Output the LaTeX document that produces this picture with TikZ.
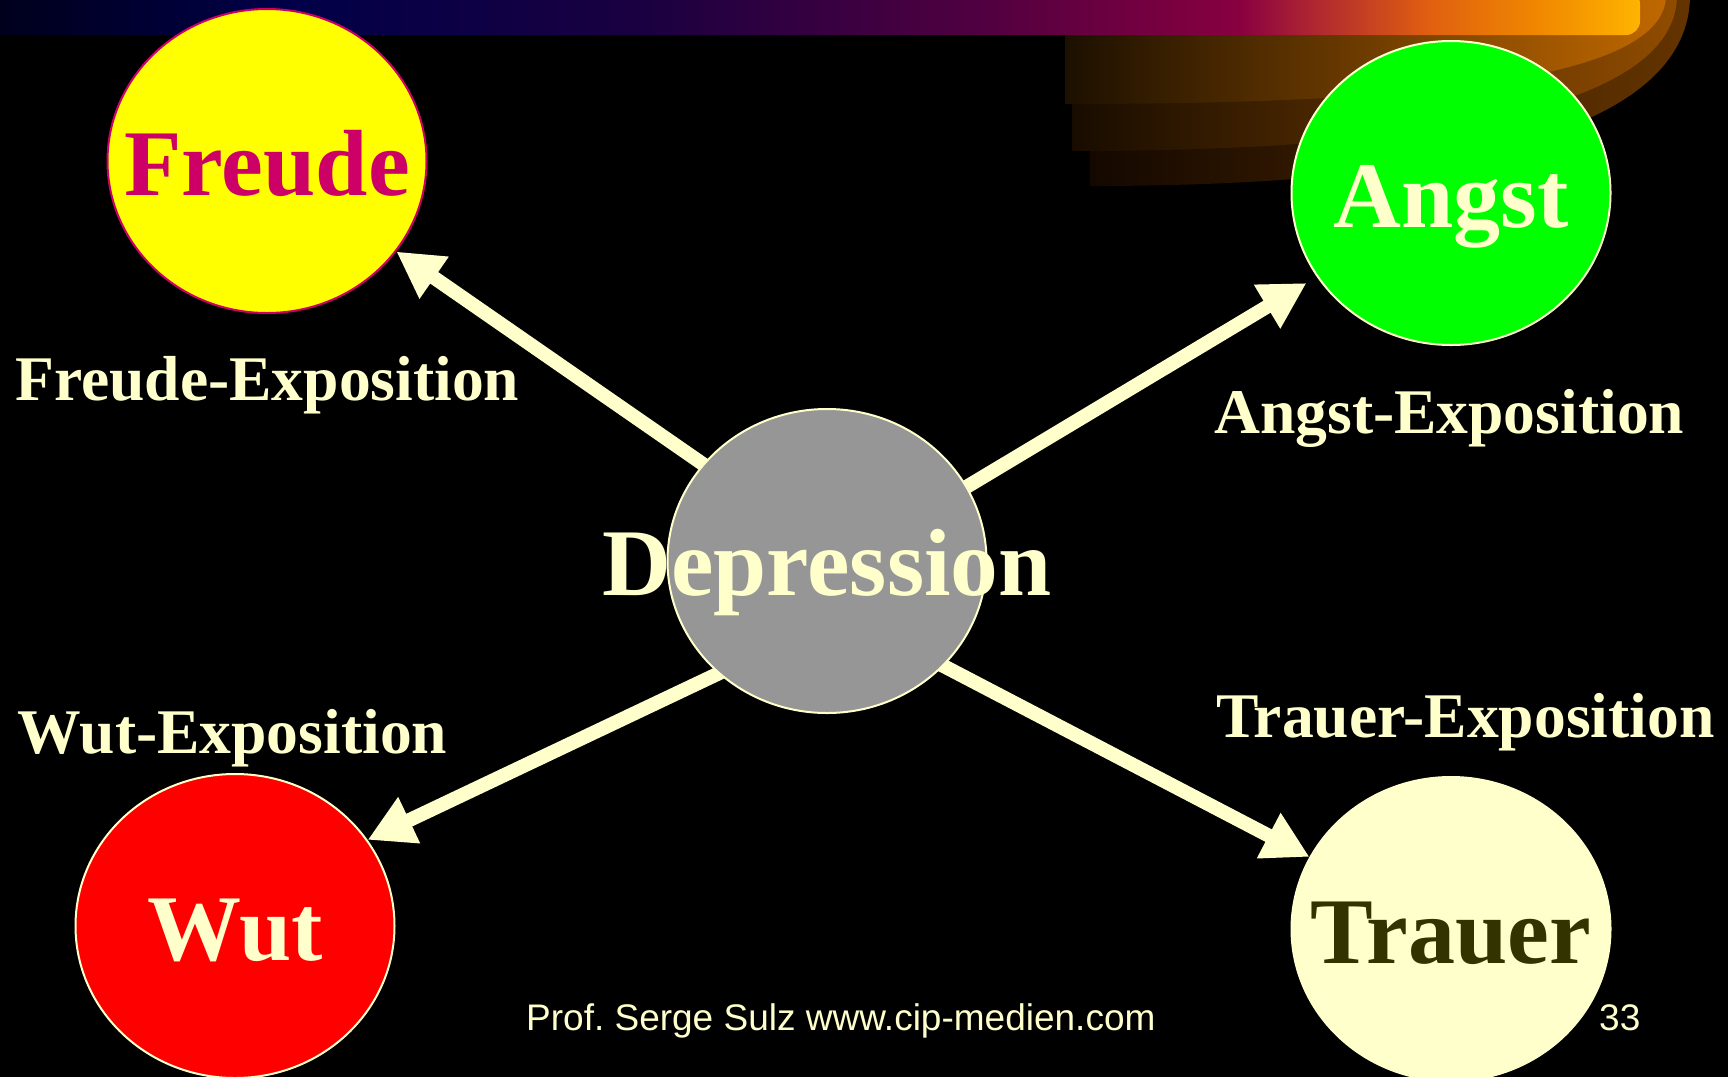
\documentclass[tikz,border=0pt]{standalone}
\usepackage{fontspec}
\setmainfont{Liberation Serif}
\newfontfamily\footfont{Liberation Sans}
\usetikzlibrary{arrows.meta,shapes.geometric}

\definecolor{cream}{HTML}{FFFFCC}
\definecolor{freudeyellow}{HTML}{FFFF00}
\definecolor{freudepink}{HTML}{CC0066}
\definecolor{angstgreen}{HTML}{00FF00}
\definecolor{depgray}{HTML}{969696}
\definecolor{wutred}{HTML}{FF0000}
\definecolor{trauerdark}{HTML}{333300}
% title bar colour stops
\definecolor{bn0}{HTML}{000018}
\definecolor{bn1}{HTML}{000048}
\definecolor{bn2}{HTML}{1A0040}
\definecolor{bn3}{HTML}{500040}
\definecolor{bn4}{HTML}{880040}
\definecolor{bn5}{HTML}{B02830}
\definecolor{bn6}{HTML}{E06010}
\definecolor{bn7}{HTML}{F08800}
\definecolor{bn8}{HTML}{FFB400}
% swoosh bands
\definecolor{swA}{HTML}{C06800}
\definecolor{swAm}{HTML}{7E4400}
\definecolor{swAl}{HTML}{1C1000}
\definecolor{swB}{HTML}{904C00}
\definecolor{swBm}{HTML}{643600}
\definecolor{swBl}{HTML}{180C00}
\definecolor{swC}{HTML}{643400}
\definecolor{swCm}{HTML}{4C2A00}
\definecolor{swCl}{HTML}{140800}

\pgfdeclarehorizontalshading{bannershade}{100bp}{%
  color(0bp)=(bn0); color(25bp)=(bn0); color(34.4bp)=(bn1); color(45.2bp)=(bn2);
  color(55.2bp)=(bn3); color(63bp)=(bn4); color(65.3bp)=(bn5); color(68.7bp)=(bn6);
  color(72bp)=(bn7); color(75bp)=(bn8); color(100bp)=(bn8)}

\pgfdeclarelayer{backdrop}
\pgfdeclarelayer{links}
\pgfsetlayers{backdrop,links,main}

% centred label whose baseline sits below the node centre
\newcommand\blobtext[1]{\makebox[0pt]{\raisebox{-34pt}[0pt][0pt]{#1}}}

\tikzset{
  blob/.style={ellipse, minimum width=319pt, minimum height=304pt, inner sep=0pt,
    line width=2pt, font=\fontsize{94}{94}\selectfont\bfseries},
  explabel/.style={anchor=base west, inner sep=0pt, text=cream,
    font=\fontsize{63.6}{63.6}\selectfont\bfseries},
  foot/.style={anchor=base west, inner sep=0pt, text=cream,
    font=\footfont\fontsize{37}{37}\selectfont},
  link/.style={draw=cream, line width=14pt, shorten <=-14pt,
    -{Triangle[length=46pt,width=48pt]}}
}

\begin{document}
\begin{tikzpicture}[x=1pt,y=-1pt]
\useasboundingbox (0,0) rectangle (1728,1077);

\begin{pgfonlayer}{backdrop}
  \fill[black] (0,0) rectangle (1728,1077);
  % swoosh behind the title bar
  \shade[left color=swCl, middle color=swCm, right color=swC]
    (1090,-5) -- (1090,186) .. controls (1420,186) and (1690,140) .. (1690,-5) -- cycle;
  \shade[left color=swBl, middle color=swBm, right color=swB]
    (1072,-5) -- (1072,151) .. controls (1420,151) and (1677,110) .. (1677,-5) -- cycle;
  \shade[left color=swAl, middle color=swAm, right color=swA]
    (1065,-5) -- (1065,104) .. controls (1420,104) and (1666,80) .. (1666,-5) -- cycle;
  % title bar
  \shade[shading=bannershade, rounded corners=14pt] (-30,-10) rectangle (1640,35);
\end{pgfonlayer}

\node[blob, fill=freudeyellow, draw=freudepink, text=freudepink] (freude) at (267,161) {\blobtext{Freude}};
\node[blob, fill=angstgreen, draw=cream, text=cream] (angst) at (1451,193) {\blobtext{Angst}};
\node[blob, fill=depgray, draw=cream, text=cream,
      font=\fontsize{95.5}{95.5}\selectfont\bfseries] (dep) at (827,561) {\blobtext{Depression}};
\node[blob, fill=wutred, draw=cream, text=cream] (wut) at (235,926) {\blobtext{Wut}};
\node[blob, fill=cream, draw=cream, text=trauerdark] (trauer) at (1451,929) {\blobtext{Trauer}};

\begin{pgfonlayer}{links}
  \draw[link] (dep.142) -- (freude.-35);
  \draw[link, shorten >=12pt] (dep.28) -- (angst.212);
  \draw[link] (dep.226) -- (wut.33);
  \draw[link] (dep.-42) -- (trauer.153);
\end{pgfonlayer}

\node[explabel] (freudeexp) at (15,400) {Freude-Exposition};
\node[explabel] (angstexp) at (1214,433) {Angst-Exposition};
\node[explabel] (wutexp) at (17,753) {Wut-Exposition};
\node[explabel] (trauerexp) at (1216,737) {Trauer-Exposition};

\node[foot] (credit) at (526,1030) {Prof.\ Serge Sulz www.cip-medien.com};
\node[foot] (pageno) at (1599,1030) {33};
\end{tikzpicture}
\end{document}
